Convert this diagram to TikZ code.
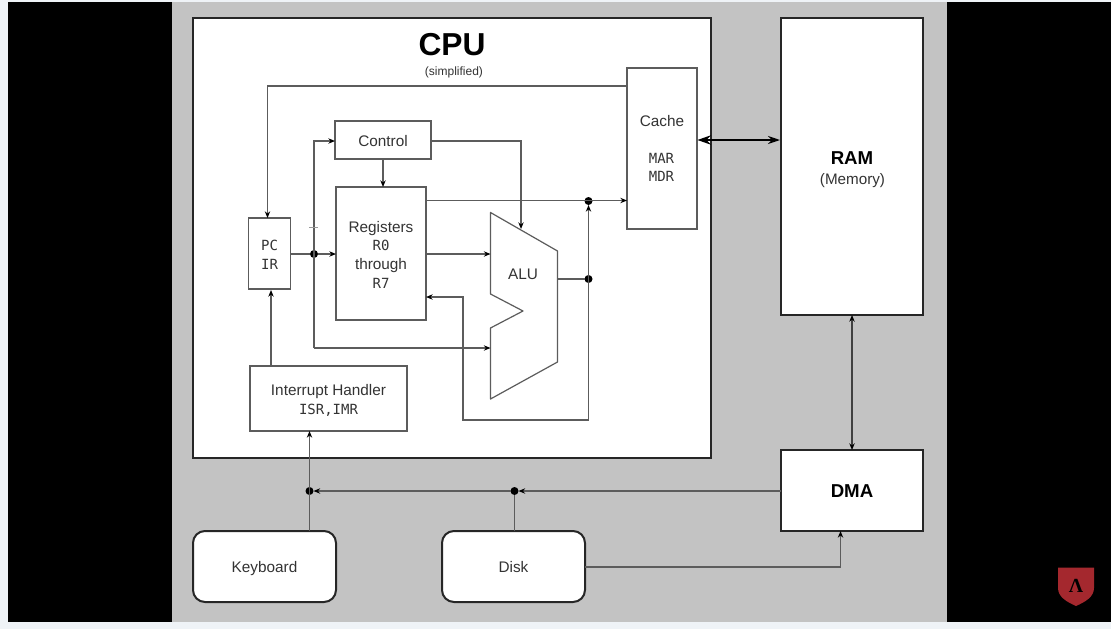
\documentclass[tikz,border=0pt]{standalone}
\usepackage{fontspec}
\setmainfont{Liberation Sans}
\setmonofont{DejaVu Sans Mono}
\newfontfamily\logofont{Liberation Serif}
\usetikzlibrary{arrows.meta}
\definecolor{pagebg}{HTML}{EFF3F7}
\definecolor{panel}{HTML}{C3C3C3}
\definecolor{thin}{HTML}{5C5C5C}
\definecolor{ink}{HTML}{333333}
\definecolor{shield}{HTML}{A4282E}
\newcommand{\monotxt}[1]{{\ttfamily\fontsize{10.5}{13}\selectfont #1}}
\tikzset{
  x=0.75pt,y=-0.75pt,
  bodytext/.style={font=\fontsize{11.5}{14}\selectfont,text=ink,align=center},
  inner/.style={draw=thin,line width=0.9pt,fill=white,inner sep=0pt,outer sep=0pt,bodytext},
  outer/.style={draw=black!85,line width=1.5pt,fill=white,inner sep=0pt,outer sep=0pt,bodytext},
  device/.style={outer,rounded corners=9pt},
  wire/.style={draw=thin,line width=0.9pt,-{Stealth[length=5pt,width=4pt,black]}},
  plainwire/.style={draw=thin,line width=0.9pt},
  busline/.style={draw=black,line width=1.3pt,{Stealth[length=10pt,width=7pt]}-{Stealth[length=9pt,width=6pt]}},
  link/.style={draw=black!75,line width=0.9pt,{Stealth[length=5pt,width=4pt,black]}-{Stealth[length=5pt,width=4pt,black]}},
  joint/.style={circle,fill=black,inner sep=0pt,minimum size=6pt,outer sep=0pt},
  bigbold/.style={font=\fontsize{14}{17}\selectfont\bfseries,text=black},
}
\begin{document}
\begin{tikzpicture}
\useasboundingbox (0,0) rectangle (1111,629);
\fill[pagebg] (0,0) rectangle (1111,629);
\fill[black] (8,2) rectangle (1111,622);
\fill[panel] (172,2) rectangle (947,622);

% main containers
\node[outer,minimum width=388.5pt,minimum height=330pt] (cpu) at (452,238) {};
\node[outer,minimum width=106.5pt,minimum height=222.75pt] (ram) at (852,166.5) {};
\node[outer,minimum width=106.5pt,minimum height=60.75pt] (dma) at (852,490.5) {};
\node[device,minimum width=107.25pt,minimum height=53.25pt] (kbd) at (264.5,566.5) {};
\node[device,minimum width=107.25pt,minimum height=53.25pt] (disk) at (513.5,566.5) {};
\node[bodytext,inner sep=0pt] (kbdtxt) at (264.5,568.5) {Keyboard};
\node[bodytext,inner sep=0pt] (disktxt) at (513.5,567.5) {Disk};

% titles
\node[font=\fontsize{23.8}{28}\selectfont\bfseries,text=black,inner sep=0pt] (cputitle) at (452,45) {CPU};
\node[font=\fontsize{9}{11}\selectfont,text=ink,inner sep=0pt] (cpusub) at (454,72.5) {(simplified)};
\node[bigbold,inner sep=0pt] (ramtitle) at (852,158) {RAM};
\node[font=\fontsize{11.4}{14}\selectfont,text=ink,inner sep=0pt] (ramsub) at (852.5,181) {(Memory)};
\node[bigbold,inner sep=0pt] (dmatitle) at (852,491) {DMA};

% inner blocks
\node[inner,minimum width=52.5pt,minimum height=120.75pt] (cache) at (662,148.5) {};
\node[bodytext,inner sep=0pt] (cachetxt) at (662,121) {Cache};
\node[inner sep=0pt,align=center,text=ink] (cachereg) at (661.5,167.5) {\monotxt{MAR}\\[1.5pt]\monotxt{MDR}};
\node[inner,minimum width=72pt,minimum height=28.5pt] (ctrl) at (383,140) {};
\node[bodytext,inner sep=0pt] (ctrltxt) at (383,141) {Control};
\node[inner,minimum width=67.5pt,minimum height=99.75pt] (regs) at (381,253.5) {};
\node[bodytext,inner sep=0pt] (regstxt) at (381,254.5) {Registers\\\monotxt{R0}\\through\\\monotxt{R7}};
\node[inner,minimum width=31.5pt,minimum height=53.25pt] (pc) at (269.5,253.5) {};
\node[bodytext,inner sep=0pt] (pctxt) at (269.5,255) {\monotxt{PC}\\\monotxt{IR}};
\node[inner,minimum width=117.75pt,minimum height=48.75pt] (irq) at (328.5,398.5) {};
\node[bodytext,inner sep=0pt] (irqtxt) at (328.5,400.5) {Interrupt Handler\\\monotxt{ISR,IMR}};

% ALU outline
\coordinate (alutl) at (490.5,212.5);
\coordinate (alutr) at (557.5,251);
\coordinate (alubr) at (557.5,362);
\coordinate (alubl) at (490.5,399);
\coordinate (alun1) at (490.5,328);
\coordinate (alun2) at (523,311);
\coordinate (alun3) at (490.5,294);
\draw[draw=thin,line width=0.9pt,line join=round] (alutl) -- (alutr) -- (alubr) -- (alubl) -- (alun1) -- (alun2) -- (alun3) -- cycle;
\node[bodytext,inner sep=0pt] (alu) at (523,274) {ALU};

% joints and routing points
\node[joint] (jpc) at (314,254) {};
\node[joint] (jtop) at (588.5,201) {};
\node[joint] (jalu) at (588.5,279) {};
\node[joint] (jkbd) at (309.5,491) {};
\node[joint] (jdisk) at (514.5,491) {};
\coordinate (cachefb) at (627,86);
\coordinate (pctop) at (267.5,218);
\coordinate (ctrlin) at (335,141);
\coordinate (alulow) at (490.5,348);
\coordinate (ctrlout) at (431,141);
\coordinate (aluhit) at (521,229);
\coordinate (regtop) at (426,200.5);
\coordinate (cachein) at (627,200.5);
\coordinate (regout) at (426,254);
\coordinate (aluin) at (490.5,254);
\coordinate (aluout) at (557.5,279);
\coordinate (loopa) at (588.5,420);
\coordinate (loopb) at (463,420);
\coordinate (regin) at (426,297);
\coordinate (loopc) at (463,297);
\coordinate (regpc) at (336,254);
\coordinate (irqtop) at (271,366.5);
\coordinate (pcbot) at (271,290);
\coordinate (irqbot) at (309.5,431);
\coordinate (kbdtop) at (309.5,531);
\coordinate (disktop) at (514.5,531);
\coordinate (dmaleft) at (781,491);
\coordinate (diskout) at (585,567);
\coordinate (dmabot) at (840.5,531);
\coordinate (cachee) at (697.5,140);
\coordinate (ramw) at (780,140);

% connectors
\draw[wire] (cachefb) -| (pctop);
\draw[wire] (alulow -| jpc) -- (jpc |- ctrlin) -- (ctrlin);
\draw[wire] (alulow -| jpc) -- (alulow);
\draw[plainwire] (pc.east |- jpc) -- (jpc);
\draw[wire] (jpc) -- (regpc);
\draw[wire] (ctrlout) -| (aluhit);
\draw[wire] (ctrl.south) -- (ctrl.south |- regs.north);
\draw[wire] (regtop) -- (cachein);
\draw[wire] (regout) -- (aluin);
\draw[plainwire] (aluout) -- (jalu);
\draw[wire] (loopa) -- (jtop);
\draw[wire] (loopa) -- (loopb) -- (loopc) -- (regin);
\draw[wire] (irqtop) -- (pcbot);
\draw[wire] (kbdtop) -- (irqbot);
\draw[wire] (dmaleft) -- (jdisk);
\draw[wire] (jdisk) -- (jkbd);
\draw[plainwire] (disktop) -- (jdisk);
\draw[wire] (diskout) -| (dmabot);
\draw[busline] (cachee) -- (ramw);
\draw[link] (ram.south) -- (dma.north);

% faint mark on the bus
\draw[draw=black!40,line width=0.7pt] (309,227) -- (318,227);

% logo
\fill[shield] (1058,567.5) -- (1094,567.5) -- (1094,588) .. controls (1094,597) and (1085,602) .. (1076,606) .. controls (1067,602) and (1058,597) .. (1058,588) -- cycle;
\node[text=black,inner sep=0pt,font=\logofont\bfseries\fontsize{15}{15}\selectfont] (logoglyph) at (1076,586) {Λ};
\end{tikzpicture}
\end{document}
